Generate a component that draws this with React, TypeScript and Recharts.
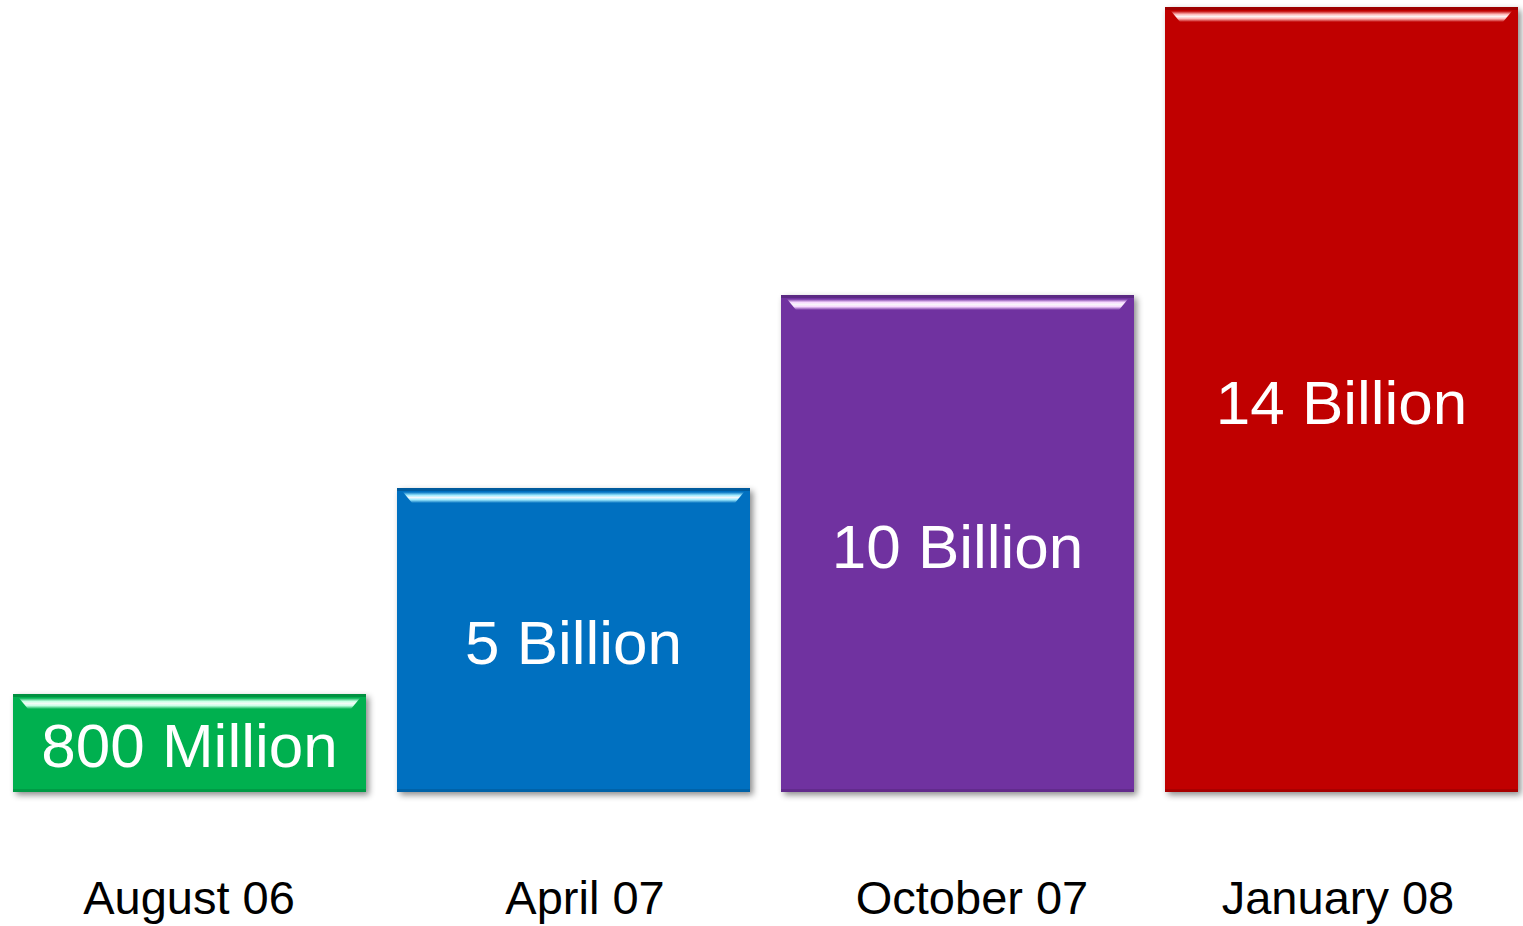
import { BarChart, Bar, XAxis, YAxis, Cell, LabelList } from "recharts";

// categories and what each bar says
const periods = ["August 06", "April 07", "October 07", "January 08"];
const volumeLabels = ["800 Million", "5 Billion", "10 Billion", "14 Billion"];
// bar heights as drawn in the slide (not proportional to the stated volume)
const barHeights = [98, 304, 497, 785];
const barColors = ["#00B050", "#0070C0", "#7030A0", "#C00000"];
const glossColors = ["#C8FFE6", "#A0ECFF", "#F6D8FF", "#FFB8B8"];

const data = periods.map((period, i) => ({
  period,
  height: barHeights[i],
  label: volumeLabels[i],
}));

const FONT = "'Liberation Sans', Arial, Helvetica, sans-serif";
// the slide's date labels sit a little off the bar centres
const tickNudge = [0, 12, 15, -3];

function GlossyBar(props: any) {
  const { x, y, width, height, index } = props;
  if (!height || height <= 0) return null;
  const gx = x + 6;
  const gw = width - 12;
  const pts = `${gx},${y + 4} ${gx + gw},${y + 4} ${gx + gw - 9},${y + 15} ${gx + 9},${y + 15}`;
  return (
    <g>
      <rect x={x} y={y} width={width} height={height} fill={barColors[index]} filter="url(#barShadow)" />
      <rect x={x} y={y} width={width} height={3} fill="#000" opacity={0.18} />
      <rect x={x} y={y + height - 3} width={width} height={3} fill="#000" opacity={0.12} />
      <polygon points={pts} fill={`url(#gloss${index})`} />
    </g>
  );
}

function PeriodTick(props: any) {
  const { x, y, payload, index } = props;
  return (
    <text x={x + (tickNudge[index] || 0)} y={y + 114} textAnchor="middle" fontSize={47} fontFamily={FONT} fill="#000">
      {payload.value}
    </text>
  );
}

export default function App() {
  return (
    <div style={{ width: 1523, height: 926, overflow: "hidden", position: "relative", background: "#fff" }}>
      <style>{`body{margin:0}`}</style>
      <div style={{ position: "absolute", left: -3, top: 0 }}>
        <BarChart width={1536} height={926} data={data} margin={{ top: 0, right: 0, bottom: 0, left: 0 }}>
          <defs>
            <filter id="barShadow" x="-5%" y="-5%" width="112%" height="115%">
              <feDropShadow dx={3} dy={3} stdDeviation={3} floodColor="#000" floodOpacity={0.45} />
            </filter>
            {barColors.map((c, i) => (
              <linearGradient key={c} id={`gloss${i}`} x1="0" y1="0" x2="0" y2="1">
                <stop offset="0" stopColor={c} />
                <stop offset="0.3" stopColor={glossColors[i]} />
                <stop offset="0.5" stopColor="#ffffff" stopOpacity={0.95} />
                <stop offset="0.7" stopColor={glossColors[i]} />
                <stop offset="1" stopColor={c} />
              </linearGradient>
            ))}
          </defs>
          <XAxis
            dataKey="period"
            axisLine={false}
            tickLine={false}
            height={134}
            interval={0}
            tick={<PeriodTick />}
          />
          <YAxis hide domain={[0, 792]} />
          <Bar dataKey="height" barSize={353} shape={<GlossyBar />} isAnimationActive={false}>
            {data.map((d, i) => (
              <Cell key={d.period} fill={barColors[i]} />
            ))}
            <LabelList
              dataKey="label"
              position="center"
              fill="#fff"
              fontSize={62}
              fontFamily={FONT}
              dy={2}
            />
          </Bar>
        </BarChart>
      </div>
    </div>
  );
}
